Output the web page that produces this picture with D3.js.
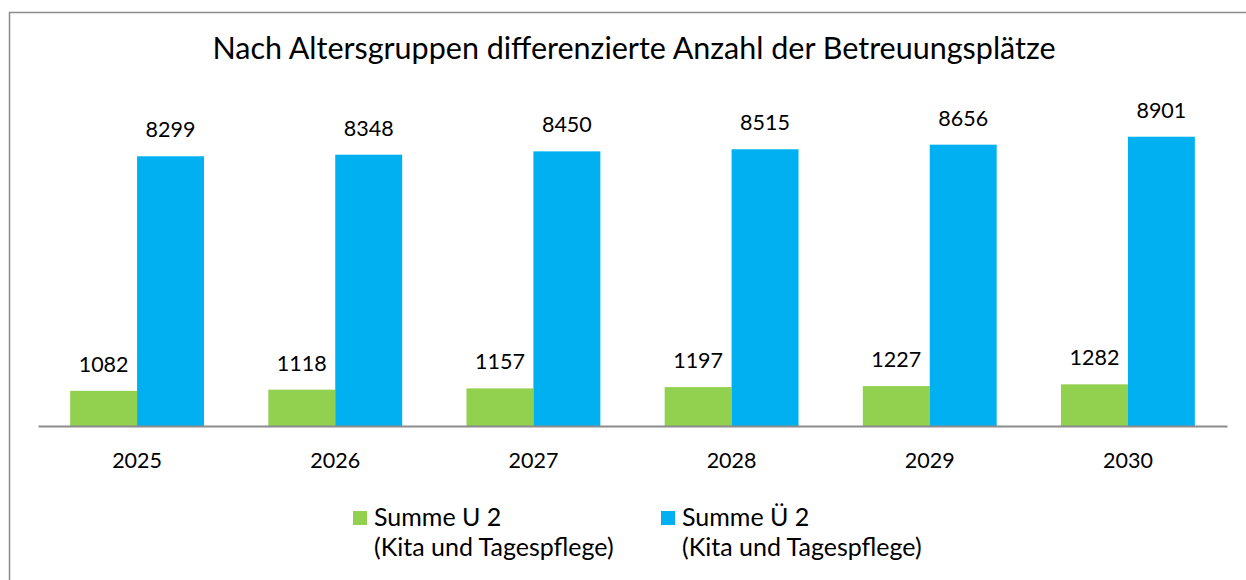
<!DOCTYPE html>
<html>
<head>
<meta charset="utf-8">
<script src="https://cdn.jsdelivr.net/npm/d3@7"></script>
<style>
  body { margin: 0; background: #fff; }
  text { font-family: Lato, "Open Sans", sans-serif; fill: #000; }
</style>
</head>
<body>
<div id="chart"></div>
<script>
const years = ['2025', '2026', '2027', '2028', '2029', '2030']
const u2 = [1082, 1118, 1157, 1197, 1227, 1282]
const ue2 = [8299, 8348, 8450, 8515, 8656, 8901]
const seriesNames = ['Summe U 2', 'Summe Ü 2']
const seriesSub = '(Kita und Tagespflege)'
const colors = ['#92D050', '#00B0F0']

const w = 1246
const h = 580

const svg = d3.select('#chart')
              .append('svg')
              .attr('width', w)
              .attr('height', h)

// outer frame, open to the right and bottom like the crop
svg.append('rect')
   .attr('x', 9.5).attr('y', 12.5)
   .attr('width', 1260).attr('height', 600)
   .attr('fill', 'none')
   .attr('stroke', '#8c8c8c')
   .attr('stroke-width', 1.5)

svg.append('text')
   .attr('x', 634).attr('y', 59)
   .attr('text-anchor', 'middle')
   .style('font-size', '30.5px')
   .text('Nach Altersgruppen differenzierte Anzahl der Betreuungsplätze')

const x = d3.scaleBand()
            .domain(years)
            .range([38, 1227])
            .paddingInner(0.3245)
            .paddingOuter(0.16225)

const sub = d3.scaleBand()
              .domain([0, 1])
              .range([0, x.bandwidth()])

const y = d3.scaleLinear()
            .domain([0, 10000])
            .range([426, 101])

const data = years.map((yr, i) => [u2[i], ue2[i]])

const groups = svg.selectAll('g.year')
                  .data(data)
                  .enter()
                  .append('g')
                  .attr('class', 'year')
                  .attr('transform', (d, i) => 'translate(' + x(years[i]) + ',0)')

groups.selectAll('rect')
      .data(d => d)
      .enter()
      .append('rect')
      .attr('x', (d, j) => sub(j))
      .attr('y', d => y(d))
      .attr('width', sub.bandwidth())
      .attr('height', d => y(0) - y(d))
      .attr('fill', (d, j) => colors[j])

groups.selectAll('text')
      .data(d => d)
      .enter()
      .append('text')
      .attr('x', (d, j) => sub(j) + sub.bandwidth() / 2)
      .attr('y', d => y(d) - 19)
      .attr('text-anchor', 'middle')
      .style('font-size', '21.5px')
      .text(d => d)

const xAxis = d3.axisBottom(x).tickSize(0).tickPadding(27)
const ax = svg.append('g')
              .attr('transform', 'translate(0,' + y(0) + ')')
              .call(xAxis)
ax.select('.domain').attr('stroke', '#8c8c8c').attr('stroke-width', 2)
ax.selectAll('text').style('font-size', '21.5px').style('font-family', 'Lato, sans-serif')

// legend
const legX = [353, 661]
const leg = svg.selectAll('g.leg')
               .data(seriesNames)
               .enter()
               .append('g')
               .attr('class', 'leg')
               .attr('transform', (d, i) => 'translate(' + legX[i] + ',0)')

leg.append('rect')
   .attr('x', 0).attr('y', 511)
   .attr('width', 14).attr('height', 14)
   .attr('fill', (d, i) => colors[i])

leg.append('text')
   .attr('x', 21).attr('y', 526)
   .style('font-size', '25px')
   .text(d => d)

leg.append('text')
   .attr('x', 21).attr('y', 556)
   .style('font-size', '25px')
   .text(seriesSub)
</script>
</body>
</html>
